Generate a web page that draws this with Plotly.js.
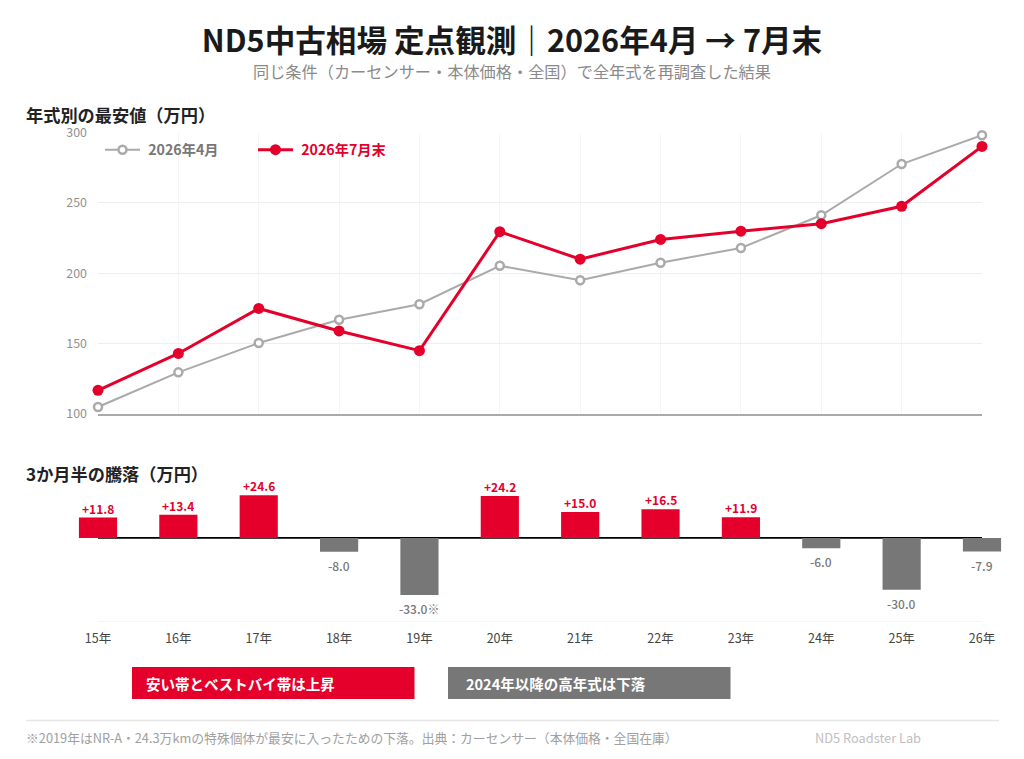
<!DOCTYPE html>
<html><head><meta charset="utf-8">
<script src="https://cdn.plot.ly/plotly-3.0.1.min.js"></script>
<style>html,body{margin:0;padding:0;background:#fff}</style></head>
<body><div id="chart" style="width:1024px;height:759px"></div>
<script>
const years = ["15年","16年","17年","18年","19年","20年","21年","22年","23年","24年","25年","26年"];
const april = [105,129.6,150.4,167,178,205.3,195,207.5,218,241.2,277.6,298];
const julyEnd = [116.8,143,175,159,145,229.5,210,224,229.9,235.2,247.6,290.1];
const change = [11.8,13.4,24.6,-8.0,-33.0,24.2,15.0,16.5,11.9,-6.0,-30.0,-7.9];
const changeLabels = ["+11.8","+13.4","+24.6","-8.0","-33.0※","+24.2","+15.0","+16.5","+11.9","-6.0","-30.0","-7.9"];
const yTicks = [100,150,200,250,300];

const FONT = '"Noto Sans CJK JP","Noto Sans",sans-serif';
const RED = '#e4002b', GRAY = '#777777';
const W = 1024, H = 759;
const px = v => v / W, py = v => 1 - v / H;

const traces = [
  {type:'scatter',mode:'lines+markers',name:'<span style="color:#777777">\u00A02026年4月</span>',x:years,y:april,cliponaxis:false,
   line:{color:'#aaaaaa',width:2},marker:{size:8,color:'#ffffff',line:{color:'#aaaaaa',width:2.5}}},
  {type:'scatter',mode:'lines+markers',name:'<span style="color:#e4002b">\u00A02026年7月末</span>',x:years,y:julyEnd,cliponaxis:false,
   line:{color:RED,width:3},marker:{size:11,color:RED}},
  {type:'bar',x:years,y:change,xaxis:'x2',yaxis:'y2',width:0.475,cliponaxis:false,showlegend:false,
   marker:{color:change.map(v=>v>=0?RED:GRAY)}}
];

const note = (text,x,y,size,color,weight,anchor) => ({text,xref:'paper',yref:'paper',x:px(x),y:py(y),
  xanchor:anchor||'left',yanchor:'middle',showarrow:false,font:{family:FONT,size,color,weight:weight||400}});

const annotations = [
  note('同じ条件（カーセンサー・本体価格・全国）で全年式を再調査した結果',512,71.5,16.2,'#8a8a8a',400,'center'),
  note('年式別の最安値（万円）',24,115,17.2,'#222222',700),
  note('3か月半の騰落（万円）',24,473.5,17.2,'#222222',700),
  note('安い帯とベストバイ帯は上昇',144,683.5,14.5,'#ffffff',700),
  note('2024年以降の高年式は下落',464,683.5,14.5,'#ffffff',700),
  note('※2019年はNR-A・24.3万kmの特殊個体が最安に入ったための下落。出典：カーセンサー（本体価格・全国在庫）',24,737,12.8,'#a0a0a0'),
  note('ND5 Roadster Lab',813,737,12.8,'#c0c0c0')
];
change.forEach((v,i)=>annotations.push({xref:'x2',yref:'y2',x:years[i],y:v,text:changeLabels[i],showarrow:false,
  yanchor:'middle',yshift:v>=0?9.5:-13.5,font:{family:FONT,size:12,weight:v>=0?700:500,color:v>=0?RED:GRAY}}));

const box = (x0,x1,y0,y1,color) => ({type:'rect',xref:'paper',yref:'paper',x0:px(x0),x1:px(x1),y0:py(y1),y1:py(y0),
  fillcolor:color,line:{width:0},layer:'below'});
const rule = (yVal,color,width) => ({type:'line',xref:'x2',yref:'y2',x0:years[0],x1:years[years.length-1],y0:yVal,y1:yVal,
  line:{color,width},layer:'below'});

const layout = {
  width:W,height:H,margin:{l:0,r:0,t:0,b:0},paper_bgcolor:'#fff',plot_bgcolor:'rgba(0,0,0,0)',
  font:{family:FONT,color:'#444'},
  title:{text:'ND5中古相場 定点観測｜2026年4月 → 7月末',x:0.5,xref:'paper',xanchor:'center',y:py(41),yref:'paper',yanchor:'middle',
    font:{family:FONT,size:30.6,weight:700,color:'#1a1a1a'}},
  xaxis:{domain:[px(98),px(982)],type:'category',categoryorder:'array',categoryarray:years,range:[0,11],showticklabels:false,ticks:'',
    showgrid:true,gridcolor:'#f5f5f5',gridwidth:1,showline:true,linecolor:'#aaaaaa',linewidth:1.5,zeroline:false},
  yaxis:{domain:[py(414),py(132.5)],range:[100,300],tickvals:yTicks,ticks:'',gridcolor:'#eeeeee',gridwidth:1,zeroline:false,showline:false,
    ticklabelstandoff:10,tickfont:{family:FONT,size:12.4,color:'#909090'}},
  xaxis2:{domain:[px(98-40.18),px(982+40.18)],anchor:'y2',type:'category',categoryorder:'array',categoryarray:years,range:[-0.5,11.5],ticks:'',showgrid:false,
    showline:false,zeroline:false,ticklabelstandoff:8,tickfont:{family:FONT,size:12.5,color:'#444444'}},
  yaxis2:{domain:[py(621.7),py(486)],anchor:'x2',range:[-48.4,30],showticklabels:false,ticks:'',showgrid:false,showline:false,zeroline:false},
  legend:{orientation:'h',x:px(100),xanchor:'left',y:py(150),yanchor:'middle',itemwidth:35,entrywidth:103,entrywidthmode:'pixels',
    bgcolor:'rgba(0,0,0,0)',font:{family:FONT,size:14.2,weight:700},itemclick:false,itemdoubleclick:false},
  shapes:[
    box(132,414.5,667,699,RED),box(448,730.5,667,699,GRAY),
    rule(0,'#000000',1.8),rule(-48.4,'#eeeeee',1),
    {type:'line',xref:'paper',yref:'paper',x0:px(26),x1:px(999),y0:py(720.5),y1:py(720.5),line:{color:'#e6e6e6',width:1.5}}
  ],
  annotations
};
Plotly.newPlot('chart',traces,layout,{displayModeBar:false});
</script></body></html>
